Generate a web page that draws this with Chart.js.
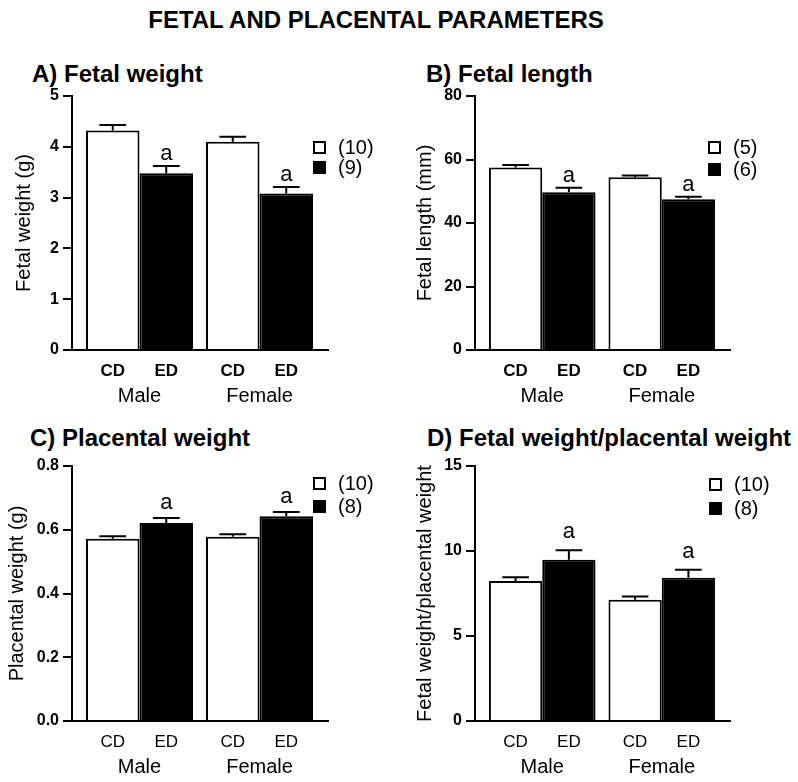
<!DOCTYPE html>
<html>
<head>
<meta charset="utf-8">
<script src="https://cdn.jsdelivr.net/npm/chart.js@4.4.1/dist/chart.umd.min.js"></script>
<style>
  html, body { margin: 0; padding: 0; background: #fff; }
  #page { position: relative; width: 798px; height: 782px; font-family: 'Liberation Sans', Arial, sans-serif; color: #000; }
  .ttl { position: absolute; font-weight: bold; font-size: 24px; line-height: 24px; white-space: nowrap; }
  .panel { position: absolute; }
</style>
</head>
<body>
<div id="page">
  <div class="ttl" style="left:0;width:752px;text-align:center;top:8px">FETAL AND PLACENTAL PARAMETERS</div>
  <div class="ttl" style="left:32px;top:62px">A) Fetal weight</div>
  <div class="ttl" style="left:426px;top:62px">B) Fetal length</div>
  <div class="ttl" style="left:30px;top:426px">C) Placental weight</div>
  <div class="ttl" style="left:427px;top:426px">D) Fetal weight/placental weight</div>

  <div class="panel" style="left:0;top:40px"><canvas id="chartA" width="399" height="370"></canvas></div>
  <div class="panel" style="left:399px;top:40px"><canvas id="chartB" width="399" height="370"></canvas></div>
  <div class="panel" style="left:0;top:410px"><canvas id="chartC" width="399" height="372"></canvas></div>
  <div class="panel" style="left:399px;top:410px"><canvas id="chartD" width="399" height="372"></canvas></div>
</div>

<script>
// shared categories
const groups = ['Male', 'Female'];
const groupPos = [1, 2];
const diets = ['CD', 'ED'];

// A) fetal weight (g)
const fetalWeightCD = [4.32, 4.10];
const fetalWeightCDsem = [0.11, 0.10];
const fetalWeightED = [3.48, 3.08];
const fetalWeightEDsem = [0.14, 0.13];
const fetalWeightN = ['(10)', '(9)'];

// B) fetal length (mm)
const fetalLengthCD = [57.5, 54.4];
const fetalLengthCDsem = [0.8, 0.6];
const fetalLengthED = [49.7, 47.5];
const fetalLengthEDsem = [1.4, 0.8];
const fetalLengthN = ['(5)', '(6)'];

// C) placental weight (g)
const placentaCD = [0.572, 0.578];
const placentaCDsem = [0.008, 0.008];
const placentaED = [0.621, 0.642];
const placentaEDsem = [0.016, 0.014];
const placentaN = ['(10)', '(8)'];

// D) fetal weight / placental weight
const ratioCD = [8.23, 7.13];
const ratioCDsem = [0.23, 0.19];
const ratioED = [9.49, 8.43];
const ratioEDsem = [0.55, 0.47];
const ratioN = ['(10)', '(8)'];

// significance vs CD
const sigCD = ['', ''];
const sigED = ['a', 'a'];

const FONT = "'Liberation Sans', Arial, sans-serif";
Chart.defaults.font.family = FONT;
Chart.defaults.color = '#000';

// whiskers (upper SEM only) + significance letter
const errorBars = {
  id: 'errorBars',
  afterDatasetsDraw(chart, args, opts) {
    const ctx = chart.ctx;
    const yScale = chart.scales.y;
    ctx.save();
    ctx.strokeStyle = '#000';
    ctx.lineWidth = 2;
    ctx.fillStyle = '#000';
    ctx.font = '22px ' + FONT;
    ctx.textAlign = 'center';
    ctx.textBaseline = 'alphabetic';
    chart.data.datasets.forEach((ds, di) => {
      chart.getDatasetMeta(di).data.forEach((bar, i) => {
        const top = yScale.getPixelForValue(ds.data[i].y + ds.sem[i]);
        const half = bar.width / 4;
        ctx.beginPath();
        ctx.moveTo(bar.x, bar.y);
        ctx.lineTo(bar.x, top);
        ctx.moveTo(bar.x - half, top);
        ctx.lineTo(bar.x + half, top);
        ctx.stroke();
        if (ds.sig[i]) ctx.fillText(ds.sig[i], bar.x, top - opts.sigGap);
      });
    });
    ctx.restore();
  }
};

// small square legend with the n per group
const boxLegend = {
  id: 'boxLegend',
  afterDraw(chart, args, opts) {
    const ctx = chart.ctx;
    const area = chart.chartArea;
    ctx.save();
    ctx.font = '20px ' + FONT;
    ctx.textAlign = 'left';
    ctx.textBaseline = 'middle';
    chart.data.datasets.forEach((ds, di) => {
      const bx = area.right + opts.dx;
      const by = area.top + opts.dy + di * opts.rowGap;
      ctx.fillStyle = ds.backgroundColor;
      ctx.fillRect(bx, by, 13, 13);
      ctx.strokeStyle = '#000';
      ctx.lineWidth = 2;
      ctx.strokeRect(bx + 1, by + 1, 11, 11);
      ctx.fillStyle = '#000';
      ctx.fillText(ds.label, bx + 25, by + 7);
    });
    ctx.restore();
  }
};

// CD / ED under each bar, Male / Female under each group
const groupLabels = {
  id: 'groupLabels',
  afterDraw(chart, args, opts) {
    const ctx = chart.ctx;
    const base = chart.scales.y.getPixelForValue(0);
    const xs = chart.scales.x;
    ctx.save();
    ctx.fillStyle = '#000';
    ctx.textAlign = 'center';
    ctx.textBaseline = 'middle';
    ctx.font = (opts.dietBold ? 'bold ' : '') + '17px ' + FONT;
    chart.data.datasets.forEach((ds, di) => {
      chart.getDatasetMeta(di).data.forEach(bar => {
        ctx.fillText(diets[di], bar.x, base + 21);
      });
    });
    ctx.font = '20px ' + FONT;
    groups.forEach((g, i) => ctx.fillText(g, xs.getPixelForValue(groupPos[i]), base + 46));
    ctx.restore();
  }
};

function makePanel(id, cfg) {
  const barOpts = { borderColor: '#000', borderWidth: 2, categoryPercentage: 107 / 120, barPercentage: 1 };
  return new Chart(document.getElementById(id), {
    type: 'bar',
    data: {
      datasets: [
        Object.assign({
          label: cfg.n[0],
          data: groupPos.map((x, i) => ({ x, y: cfg.cd[i] })),
          sem: cfg.cdSem,
          sig: sigCD,
          backgroundColor: '#fff'
        }, barOpts),
        Object.assign({
          label: cfg.n[1],
          data: groupPos.map((x, i) => ({ x, y: cfg.ed[i] })),
          sem: cfg.edSem,
          sig: sigED,
          backgroundColor: '#000'
        }, barOpts)
      ]
    },
    options: {
      responsive: false,
      animation: false,
      layout: { padding: cfg.pad },
      plugins: {
        legend: { display: false },
        tooltip: { enabled: false },
        errorBars: { sigGap: cfg.sigGap },
        boxLegend: cfg.legend,
        groupLabels: { dietBold: cfg.dietBold }
      },
      scales: {
        x: {
          type: 'linear',
          min: 0.4375,
          max: 2.5708,
          offset: false,
          grid: { display: false, drawTicks: false },
          border: { color: '#000', width: 2 },
          ticks: { display: false },
          afterBuildTicks: s => { s.ticks = groupPos.map(v => ({ value: v })); }
        },
        y: {
          min: 0,
          max: cfg.yMax,
          ticks: {
            stepSize: cfg.step,
            padding: 4,
            color: '#000',
            font: { size: 16, weight: 'bold' },
            callback: v => v.toFixed(cfg.decimals)
          },
          grid: { drawOnChartArea: false, color: '#000', lineWidth: 2, tickLength: 9 },
          border: { color: '#000', width: 2 },
          title: { display: true, text: cfg.yTitle, color: '#000', font: { size: 20 } },
          afterFit: s => { s.width = cfg.yWidth; }
        }
      }
    },
    plugins: [errorBars, boxLegend, groupLabels]
  });
}

makePanel('chartA', {
  cd: fetalWeightCD, cdSem: fetalWeightCDsem, ed: fetalWeightED, edSem: fetalWeightEDsem, n: fetalWeightN,
  yMax: 5, step: 1, decimals: 0, yTitle: 'Fetal weight (g)',
  pad: { left: 8, right: 71, top: 56, bottom: 60 }, yWidth: 64,
  sigGap: 6, legend: { dx: -15, dy: 45, rowGap: 20 }, dietBold: true
});

makePanel('chartB', {
  cd: fetalLengthCD, cdSem: fetalLengthCDsem, ed: fetalLengthED, edSem: fetalLengthEDsem, n: fetalLengthN,
  yMax: 80, step: 20, decimals: 0, yTitle: 'Fetal length (mm)',
  pad: { left: 10, right: 68, top: 56, bottom: 60 }, yWidth: 66,
  sigGap: 6, legend: { dx: -22, dy: 45, rowGap: 22 }, dietBold: true
});

makePanel('chartC', {
  cd: placentaCD, cdSem: placentaCDsem, ed: placentaED, edSem: placentaEDsem, n: placentaN,
  yMax: 0.8, step: 0.2, decimals: 1, yTitle: 'Placental weight (g)',
  pad: { left: 1, right: 71, top: 56, bottom: 61 }, yWidth: 71,
  sigGap: 9, legend: { dx: -15, dy: 11, rowGap: 23 }, dietBold: false
});

makePanel('chartD', {
  cd: ratioCD, cdSem: ratioCDsem, ed: ratioED, edSem: ratioEDsem, n: ratioN,
  yMax: 15, step: 5, decimals: 0, yTitle: 'Fetal weight/placental weight',
  pad: { left: 10, right: 68, top: 56, bottom: 61 }, yWidth: 66,
  sigGap: 12, legend: { dx: -21, dy: 12, rowGap: 24 }, dietBold: false
});
</script>
</body>
</html>
